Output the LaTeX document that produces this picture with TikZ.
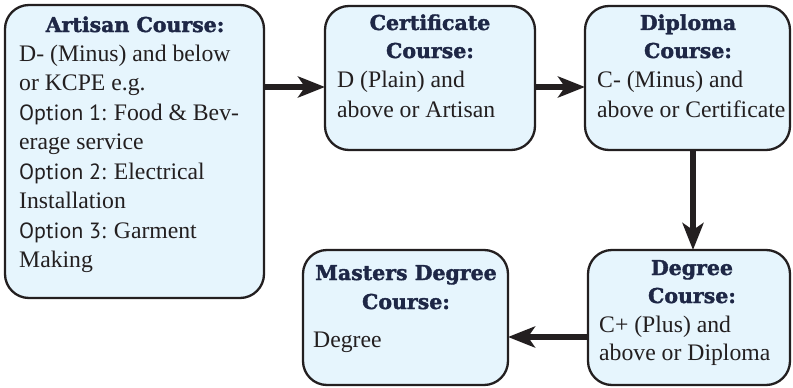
\documentclass[tikz,border=0pt]{standalone}
\usepackage{fontspec}
\setmainfont{Liberation Serif}
\newfontfamily\ttlfont[BoldFeatures={FakeBold=1.8}]{DejaVu Serif}
\newfontfamily\optfont{PT Sans}
\usetikzlibrary{arrows.meta}
\definecolor{boxfill}{HTML}{E6F5FD}
\definecolor{boxline}{HTML}{231F20}
\definecolor{ttlcol}{HTML}{1E2746}
\tikzset{
  box/.style={draw=boxline, line width=2.3pt, fill=boxfill, rounded corners=24pt, inner sep=0pt, outer sep=0pt},
  ttl/.style={font=\ttlfont\bfseries\fontsize{20.5}{22}\selectfont, text=ttlcol, anchor=base, inner sep=0pt},
  body/.style={font=\fontsize{23.7}{28}\selectfont, text=boxline, anchor=base west, inner sep=0pt},
  arr/.style={line width=6pt, draw=boxline, -{Stealth[length=27pt,width=21pt,inset=7pt]}}
}
\newcommand{\opt}[1]{{\optfont\fontsize{22}{28}\selectfont #1}}
\begin{document}
\begin{tikzpicture}[x=1pt,y=-1pt]
\useasboundingbox (0,0) rectangle (793,388);
\node[box, minimum width=259pt, minimum height=293pt] (art) at (134.5,151.5) {};
\node[box, minimum width=210pt, minimum height=144pt] (cert) at (430,78) {};
\node[box, minimum width=205pt, minimum height=144pt] (dip) at (687.5,78) {};
\node[box, minimum width=202pt, minimum height=135pt] (deg) at (689,317.5) {};
\node[box, minimum width=205pt, minimum height=135pt] (mas) at (405.5,317.5) {};
% Artisan texts
\node[ttl] (t1) at (135,32) {Artisan Course:};
\node[body] (b1) at (19,61) {D- (Minus) and below};
\node[body] (b2) at (19,90.5) {or KCPE e.g.};
\node[body] (b3) at (19,120) {\opt{Option 1:} Food \& Bev-};
\node[body] (b4) at (19,149.5) {erage service};
\node[body] (b5) at (19,179) {\opt{Option 2:} Electrical};
\node[body] (b6) at (19,208.5) {Installation};
\node[body] (b7) at (19,238) {\opt{Option 3:} Garment};
\node[body] (b8) at (19,267) {Making};
% Certificate
\node[ttl] (t2) at (430,30) {Certificate};
\node[ttl] (t3) at (430,58) {Course:};
\node[body] (c1) at (337,87) {D (Plain) and};
\node[body] (c2) at (337,117) {above or Artisan};
% Diploma
\node[ttl] (t4) at (688,30) {Diploma};
\node[ttl] (t5) at (688,58) {Course:};
\node[body] (d1) at (597,87) {C- (Minus) and};
\node[body] (d2) at (597,117) {above or Certificate};
% Degree
\node[ttl] (t6) at (692,275) {Degree};
\node[ttl] (t7) at (692,303) {Course:};
\node[body] (e1) at (599,332) {C+ (Plus) and};
\node[body] (e2) at (599,360) {above or Diploma};
% Masters
\node[ttl] (t8) at (406,280) {Masters Degree};
\node[ttl] (t9) at (406,309) {Course:};
\node[body] (m1) at (313,347) {Degree};
% arrows
\coordinate (ya) at (0,87);
\coordinate (xb) at (693,0);
\coordinate (yc) at (0,337);
\draw[arr] (art.east |- ya) -- (cert.west |- ya);
\draw[arr] (cert.east |- ya) -- (dip.west |- ya);
\draw[arr] (dip.south -| xb) -- (deg.north -| xb);
\draw[arr] (deg.west |- yc) -- (mas.east |- yc);
\end{tikzpicture}
\end{document}
